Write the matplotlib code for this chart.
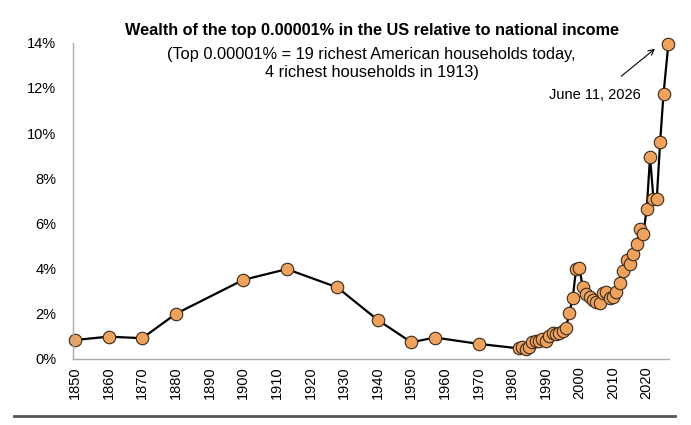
import matplotlib
matplotlib.use("Agg")
import matplotlib.pyplot as plt
from matplotlib.ticker import FuncFormatter
import matplotlib.lines as mlines

plt.rcParams['font.family'] = ['Liberation Sans', 'DejaVu Sans']

# Data: year, % of national income
years = [1850, 1860, 1870, 1880, 1900, 1913, 1928, 1940, 1950, 1957, 1970,
         1982, 1983, 1984, 1985, 1986, 1987, 1988, 1989, 1990, 1991, 1992,
         1993, 1994, 1995, 1996, 1997, 1998, 1999, 2000, 2001, 2002, 2003,
         2004, 2005, 2006, 2007, 2008, 2009, 2010, 2011, 2012, 2013, 2014,
         2015, 2016, 2017, 2018, 2019, 2020, 2021, 2022, 2023, 2024, 2025,
         2026.45]
values = [0.84, 0.99, 0.92, 2.00, 3.50, 3.98, 3.17, 1.73, 0.74, 0.95, 0.67,
          0.47, 0.55, 0.43, 0.52, 0.77, 0.81, 0.80, 0.87, 0.80, 1.02, 1.14,
          1.12, 1.15, 1.26, 1.36, 2.05, 2.70, 3.98, 4.03, 3.17, 2.87, 2.75,
          2.60, 2.52, 2.47, 2.90, 2.96, 2.70, 2.75, 2.96, 3.36, 3.90, 4.36,
          4.20, 4.65, 5.10, 5.76, 5.55, 6.62, 8.95, 7.10, 7.10, 9.61, 11.73,
          13.95]
xticks = list(range(1850, 2021, 10))
yticks = [0, 2, 4, 6, 8, 10, 12, 14]

title = "Wealth of the top 0.00001% in the US relative to national income"
subtitle = "(Top 0.00001% = 19 richest American households today,\n4 richest households in 1913)"
note = "June 11, 2026"

fig = plt.figure(figsize=(6.91, 4.25), dpi=100)
ax = fig.add_axes([0.1056, 0.1553, 0.8624, 0.7442])

ax.plot(years, values, color='black', lw=1.6, zorder=2,
        marker='o', markersize=9, markerfacecolor='#EFA25E',
        markeredgecolor='#3a2a1a', markeredgewidth=0.8, clip_on=False)

ax.set_xlim(1849.4, 2026.6)
ax.set_ylim(0, 14)
ax.set_xticks(xticks)
ax.set_xticklabels([str(t) for t in xticks], rotation=90)
ax.set_yticks(yticks)
ax.yaxis.set_major_formatter(FuncFormatter(lambda v, p: f"{int(v)}%"))
ax.tick_params(axis='both', length=0, labelsize=10.5, colors='black', pad=5)
ax.tick_params(axis='y', pad=12)
for s in ['top', 'right']:
    ax.spines[s].set_visible(False)
for s in ['left', 'bottom']:
    ax.spines[s].set_color('#aaaaaa')
    ax.spines[s].set_linewidth(1.0)

fig.text(0.538, 0.929, title, ha='center', va='center', fontsize=11.7, fontweight='bold')
fig.text(0.538, 0.851, subtitle, ha='center', va='center', fontsize=11.8, linespacing=1.27)

ax.annotate('', xy=(2023.1, 13.81), xytext=(2011.8, 12.44),
            arrowprops=dict(arrowstyle='->', color='black', lw=0.8))
ax.text(2004.6, 11.70, note, ha='center', va='center', fontsize=10.5)

fig.add_artist(mlines.Line2D([0.02, 0.977], [0.021, 0.021], color='#555555', lw=2.0))

fig.savefig('out.png', dpi=100)
